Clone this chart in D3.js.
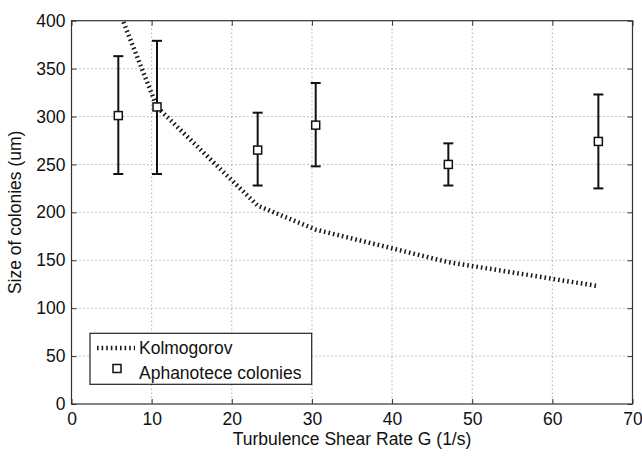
<!DOCTYPE html>
<html>
<head>
<meta charset="utf-8">
<script src="https://cdn.jsdelivr.net/npm/d3@7"></script>
<style>
  html, body { margin: 0; padding: 0; background: #fff; }
  svg { display: block; font-family: "Liberation Sans", Arial, Helvetica, sans-serif; }
</style>
</head>
<body>
<svg id="chart" width="642" height="457"></svg>
<script>
// Measured colony sizes (mean with min/max error bars) at each shear rate
const shearRate = [5.84, 10.67, 23.23, 30.47, 47.02, 65.74];
const colonySize = [301, 310, 265, 291, 250, 274];
const sizeLow = [240, 240, 228, 248, 228, 225];
const sizeHigh = [363, 379, 304, 335, 272, 323];

// Kolmogorov microscale prediction evaluated at the same shear rates
const kolmoG = [5.84, 10.67, 23.23, 30.47, 47.02, 65.74];
const kolmoSize = [412, 310, 207, 182, 148, 123];

const xTicks = [0, 10, 20, 30, 40, 50, 60, 70];
const yTicks = [0, 50, 100, 150, 200, 250, 300, 350, 400];

const svg = d3.select("#chart");
const plotL = 71.5, plotR = 632.5, plotT = 20.7, plotB = 404;
const fontSize = 17.5;

const x = d3.scaleLinear().domain([0, 70]).range([plotL, plotR]);
const y = d3.scaleLinear().domain([0, 400]).range([plotB, plotT]);

svg.append("defs").append("clipPath").attr("id", "plotClip")
  .append("rect").attr("x", plotL).attr("y", plotT)
  .attr("width", plotR - plotL).attr("height", plotB - plotT);

// Dotted grid
const grid = svg.append("g");
grid.selectAll("line.gx").data(xTicks.slice(1, -1)).join("line")
  .attr("x1", d => x(d)).attr("x2", d => x(d))
  .attr("y1", plotT).attr("y2", plotB)
  .attr("stroke", "#8a8a8a").attr("stroke-width", 1).attr("stroke-dasharray", "1,3");
grid.selectAll("line.gy").data(yTicks.slice(1, -1)).join("line")
  .attr("x1", plotL).attr("x2", plotR)
  .attr("y1", d => y(d)).attr("y2", d => y(d))
  .attr("stroke", "#8a8a8a").attr("stroke-width", 1).attr("stroke-dasharray", "1,3");

// Axes with inward ticks on all four sides
function styleAxis(g) {
  g.select(".domain").remove();
  g.selectAll(".tick line").attr("stroke", "#333");
  g.selectAll(".tick text").attr("fill", "#111").style("font-size", fontSize + "px")
    .style("font-family", "'Liberation Sans', Arial, sans-serif");
}
svg.append("g").attr("transform", `translate(0,${plotB})`)
  .call(d3.axisBottom(x).tickValues(xTicks).tickFormat(d3.format("d")).tickSize(-5).tickPadding(9))
  .call(styleAxis);
svg.append("g").attr("transform", `translate(${plotL},0)`)
  .call(d3.axisLeft(y).tickValues(yTicks).tickFormat(d3.format("d")).tickSize(-5).tickPadding(6))
  .call(styleAxis);
svg.append("g").attr("transform", `translate(0,${plotT})`)
  .call(d3.axisTop(x).tickValues(xTicks).tickFormat("").tickSize(-5))
  .call(styleAxis);
svg.append("g").attr("transform", `translate(${plotR},0)`)
  .call(d3.axisRight(y).tickValues(yTicks).tickFormat("").tickSize(-5))
  .call(styleAxis);

svg.append("rect").attr("x", plotL).attr("y", plotT)
  .attr("width", plotR - plotL).attr("height", plotB - plotT)
  .attr("fill", "none").attr("stroke", "#333").attr("stroke-width", 1.2);

// Kolmogorov curve
const line = d3.line().x(d => x(d[0])).y(d => y(d[1]));
svg.append("path")
  .datum(d3.zip(kolmoG, kolmoSize))
  .attr("clip-path", "url(#plotClip)")
  .attr("d", line)
  .attr("fill", "none").attr("stroke", "#1a1a1a")
  .attr("stroke-width", 4.5).attr("stroke-dasharray", "1.6,3");

// Error bars with square markers
const pts = shearRate.map((g, i) => ({ g, v: colonySize[i], lo: sizeLow[i], hi: sizeHigh[i] }));
const eb = svg.append("g").attr("stroke", "#111").attr("stroke-width", 2).attr("fill", "none");
eb.selectAll("line.bar").data(pts).join("line")
  .attr("x1", d => x(d.g)).attr("x2", d => x(d.g))
  .attr("y1", d => y(d.lo)).attr("y2", d => y(d.hi));
eb.selectAll("line.capHi").data(pts).join("line")
  .attr("x1", d => x(d.g) - 5).attr("x2", d => x(d.g) + 5)
  .attr("y1", d => y(d.hi)).attr("y2", d => y(d.hi));
eb.selectAll("line.capLo").data(pts).join("line")
  .attr("x1", d => x(d.g) - 5).attr("x2", d => x(d.g) + 5)
  .attr("y1", d => y(d.lo)).attr("y2", d => y(d.lo));
svg.append("g").selectAll("rect").data(pts).join("rect")
  .attr("x", d => x(d.g) - 4).attr("y", d => y(d.v) - 4)
  .attr("width", 8).attr("height", 8)
  .attr("fill", "#fff").attr("stroke", "#111").attr("stroke-width", 1.5);

// Axis titles
svg.append("text")
  .attr("x", (plotL + plotR) / 2).attr("y", 445)
  .attr("text-anchor", "middle").style("font-size", fontSize + "px").attr("fill", "#111")
  .text("Turbulence Shear Rate G (1/s)");
svg.append("text")
  .attr("transform", `translate(21,${(plotT + plotB) / 2}) rotate(-90)`)
  .attr("text-anchor", "middle").style("font-size", fontSize + "px").attr("fill", "#111")
  .text("Size of colonies (um)");

// Legend
const lg = svg.append("g");
lg.append("rect").attr("x", 90).attr("y", 333.3).attr("width", 221.7).attr("height", 51)
  .attr("fill", "#fff").attr("stroke", "#222").attr("stroke-width", 1.2);
lg.append("line").attr("x1", 97).attr("x2", 135).attr("y1", 348).attr("y2", 348)
  .attr("stroke", "#1a1a1a").attr("stroke-width", 4.5).attr("stroke-dasharray", "1.6,3");
lg.append("rect").attr("x", 113).attr("y", 364.5).attr("width", 8).attr("height", 8)
  .attr("fill", "#fff").attr("stroke", "#111").attr("stroke-width", 1.5);
lg.append("text").attr("x", 139).attr("y", 354).style("font-size", fontSize + "px").attr("fill", "#111")
  .text("Kolmogorov");
lg.append("text").attr("x", 139).attr("y", 379).style("font-size", fontSize + "px").attr("fill", "#111")
  .text("Aphanotece colonies");
</script>
</body>
</html>
